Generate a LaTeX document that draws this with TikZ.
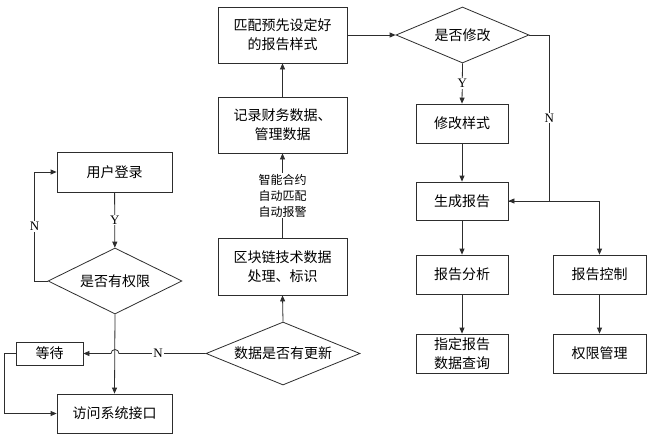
\documentclass[tikz,border=0pt]{standalone}
\usepackage{fontspec}
\setmainfont{Liberation Serif}
\newfontfamily\cjk{Noto Sans CJK SC}
\usetikzlibrary{shapes.geometric,arrows.meta,calc}
\definecolor{lc}{RGB}{45,45,45}
\begin{document}
\begin{tikzpicture}[x=1pt,y=-1pt,
  box/.style={draw=lc, line width=0.8pt, inner sep=0pt, align=center, text=black,
    font=\cjk\fontsize{14}{19}\selectfont},
  dia/.style={draw=lc, line width=0.8pt, diamond, inner sep=0pt, align=center, text=black,
    font=\cjk\fontsize{14}{19}\selectfont},
  arr/.style={draw=lc, line width=0.8pt, -{Triangle[length=6pt,width=5pt]}},
  yn/.style={fill=white, inner sep=1pt, font=\fontsize{13}{13}\selectfont, text=black},
  lbl/.style={fill=white, inner sep=1pt, align=center, text=black,
    font=\cjk\fontsize{12}{16}\selectfont}]
\useasboundingbox (0,0) rectangle (650,439);
\fill[white] (0,0) rectangle (650,439);

% left column
\node[box, minimum width=115pt, minimum height=40pt] (login) at (114.5,172) {用户登录};
\node[dia, aspect=2.03, minimum width=134pt, minimum height=66pt] (perm) at (115,281) {是否有权限};
\node[box, minimum width=67pt, minimum height=23pt] (wait) at (49.5,353.5) {等待};
\node[box, minimum width=115pt, minimum height=39pt] (access) at (114.5,413.5) {访问系统接口};

% middle column
\node[dia, aspect=2.44, minimum width=154pt, minimum height=63pt] (upd) at (283,353.5) {数据是否有更新};
\node[box, minimum width=129pt, minimum height=57pt] (chain) at (282.5,266.5) {区块链技术数据\\处理、标识};
\node[box, minimum width=129pt, minimum height=56pt] (record) at (282.5,125) {记录财务数据、\\管理数据};
\node[box, minimum width=129pt, minimum height=56pt] (match) at (282.5,35) {匹配预先设定好\\的报告样式};

% right columns
\node[dia, aspect=2.37, minimum width=133pt, minimum height=56pt] (modq) at (462.5,35) {是否修改};
\node[box, minimum width=92pt, minimum height=39pt] (modify) at (462,123.5) {修改样式};
\node[box, minimum width=92pt, minimum height=38pt] (gen) at (462,201) {生成报告};
\node[box, minimum width=92pt, minimum height=39pt] (anal) at (462,274.5) {报告分析};
\node[box, minimum width=92pt, minimum height=39pt] (query) at (462,353.5) {指定报告\\数据查询};
\node[box, minimum width=93pt, minimum height=39pt] (ctrl) at (599.5,274.5) {报告控制};
\node[box, minimum width=93pt, minimum height=39pt] (perm2) at (599.5,353.5) {权限管理};

% connectors, left
\draw[arr] (login) -- node[yn] {Y} (perm);
\coordinate (nl) at ($(perm.west)+(-13,0)$);
\draw[arr] (perm.west) -- (nl) |- node[yn, pos=0.25] {N} (login.west);
\draw[arr] (perm.south) -- (access.north);
\coordinate (hop) at (perm.south |- upd.west);
\draw[arr] (upd.west) -- node[yn, pos=0.55] {N} ($(hop)+(4,0)$) arc[start angle=0, end angle=180, radius=4pt] -- (wait.east);
\coordinate (wl) at ($(wait.west)+(-11,0)$);
\draw[arr] (wait.west) -- (wl) |- (access.west);

% connectors, middle
\draw[arr] (upd.north) -- (chain.south);
\draw[arr] (chain.north) -- node[lbl] {智能合约\\自动匹配\\自动报警} (record.south);
\draw[arr] (record.north) -- (match.south);
\draw[arr] (match.east) -- (modq.west);

% connectors, right
\draw[arr] (modq.south) -- node[yn] {Y} (modify.north);
\draw[arr] (modify.south) -- (gen.north);
\coordinate (nr) at ($(modq.east)+(20,0)$);
\draw[arr] (modq.east) -- (nr) -- node[yn] {N} (nr |- gen.east) -- (gen.east);
\draw[arr] (gen.east) -| (ctrl.north);
\draw[arr] (gen.south) -- (anal.north);
\draw[arr] (anal.south) -- (query.north);
\draw[arr] (ctrl.south) -- (perm2.north);
\end{tikzpicture}
\end{document}
